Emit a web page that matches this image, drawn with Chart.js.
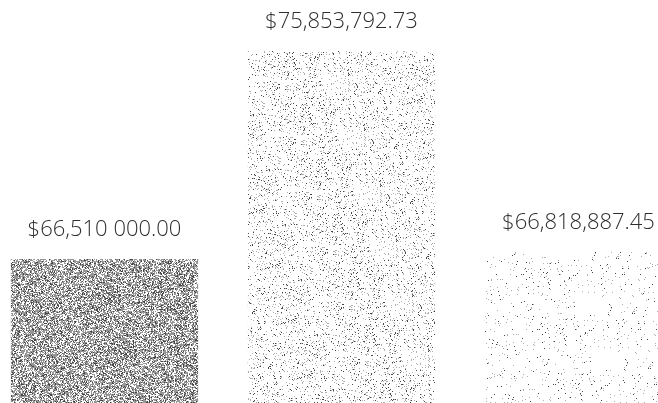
<!DOCTYPE html>
<html lang="en">
<head>
<meta charset="UTF-8">
<title>Totals</title>
<script src="https://cdn.jsdelivr.net/npm/chart.js@4/dist/chart.umd.min.js"></script>
<style>
  body {
    margin: 0;
    width: 658px;
    height: 403px;
    overflow: hidden;
    background: #fff;
    position: relative;
  }
  .wrap {
    position: absolute;
    left: -14px;
    top: 0;
    width: 711px;
    height: 403px;
  }
</style>
</head>
<body>

<div class="wrap">
  <canvas id="totals" width="711" height="403"></canvas>
</div>

<script>
  // values
  const categories = ['Bar 1', 'Bar 2', 'Bar 3'];
  const amounts = [66510000.00, 75853792.73, 66818887.45];
  const amountLabels = ['$66,510 000.00', '$75,853,792.73', '$66,818,887.45'];

  // stippled fill, dots placed with a fixed hash so it looks the same every time
  function stipple(w, h, darkP, greyP, grey) {
    const c = document.createElement('canvas');
    c.width = w; c.height = h;
    const g = c.getContext('2d');
    const img = g.createImageData(w, h);
    let seed = 12345;
    function rnd() {
      seed = (seed * 1103515245 + 12345) & 0x7fffffff;
      return seed / 0x7fffffff;
    }
    for (let i = 0; i < w * h; i++) {
      const r = rnd();
      let v = 255;
      if (r < darkP) v = 70;
      else if (r < darkP + greyP) v = grey;
      img.data[i * 4] = v;
      img.data[i * 4 + 1] = v;
      img.data[i * 4 + 2] = v;
      img.data[i * 4 + 3] = 255;
    }
    g.putImageData(img, 0, 0);
    return document.getElementById('totals').getContext('2d').createPattern(c, 'repeat');
  }

  const fills = [
    stipple(190, 410, 0.16, 0.46, 150),
    stipple(190, 410, 0.03, 0.09, 175),
    stipple(190, 410, 0.01, 0.018, 175)
  ];

  // draws the amount above each bar
  const topLabels = {
    id: 'topLabels',
    afterDatasetsDraw(chart) {
      const ctx = chart.ctx;
      const bars = chart.getDatasetMeta(0).data;
      ctx.save();
      ctx.font = '300 22px "Open Sans"';
      ctx.fillStyle = '#2e2e2e';
      ctx.textAlign = 'center';
      ctx.textBaseline = 'middle';
      bars.forEach((bar, i) => {
        ctx.fillText(amountLabels[i], bar.x, bar.y - 29);
      });
      ctx.restore();
    }
  };

  new Chart('totals', {
    type: 'bar',
    data: {
      labels: categories,
      datasets: [{
        data: amounts,
        backgroundColor: fills,
        borderWidth: 0,
        barPercentage: 0.79,
        categoryPercentage: 1
      }]
    },
    options: {
      responsive: false,
      animation: false,
      layout: { padding: 0 },
      plugins: {
        legend: { display: false },
        tooltip: { enabled: false }
      },
      scales: {
        x: { display: false },
        y: { display: false, min: 60040000, max: 78145000 }
      }
    },
    plugins: [topLabels]
  });
</script>

</body>
</html>
